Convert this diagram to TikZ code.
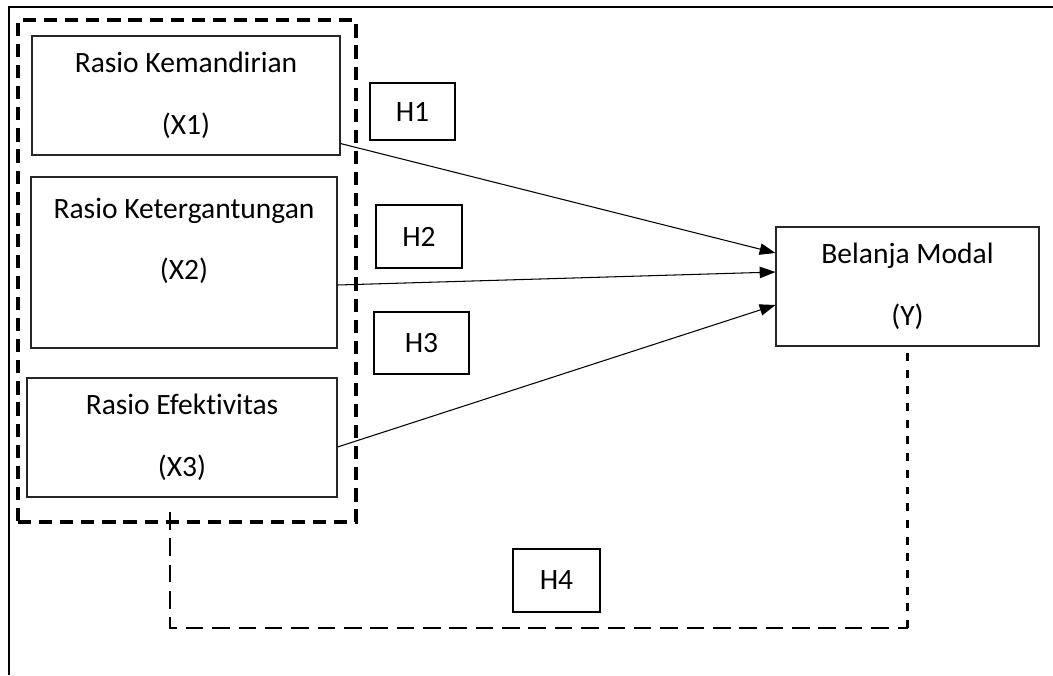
\documentclass[tikz,border=0pt]{standalone}
\usepackage{fontspec}
\setmainfont{Carlito}[Ligatures=NoCommon]
\usepackage{tikz}
\usetikzlibrary{arrows.meta}
\tikzset{
    var-box/.style = {draw=black!85, line width=0.6pt, rectangle, align=center, font=\fontsize{16.8}{20}\selectfont, inner sep=0pt},
    hyp-box/.style = {draw=black, line width=1.3pt, rectangle, font=\fontsize{16.8}{20}\selectfont, inner sep=0pt},
    group-box/.style = {draw=black, line width=1.8pt, dash pattern=on 7.5pt off 4.5pt},
    path-arrow/.style = {-{Triangle[length=9pt,width=6.5pt]}, line width=0.6pt},
    link-dashed/.style = {line width=1.2pt, dash pattern=on 10pt off 5pt},
}

\begin{document}
\begin{tikzpicture}
\useasboundingbox (0,0) rectangle (21.06,-13.5);
% outer frame
\draw[line width=1.4pt] (0.18,-13.5) -- (0.18,-0.14) -- (21.06,-0.14);
% variables
\node[group-box, minimum width=6.76cm, minimum height=10.04cm] (group) at (3.74,-5.42) {};
\node[var-box, minimum width=6.16cm, minimum height=2.38cm] (X1) at (3.72,-1.91) {Rasio Kemandirian\\[15pt](X1)};
\node[var-box, minimum width=6.12cm, minimum height=3.42cm, text depth=27pt] (X2) at (3.68,-5.25) {Rasio Ketergantungan\\[15pt](X2)};
\node[var-box, minimum width=6.2cm, minimum height=2.38cm] (X3) at (3.64,-8.75) {Rasio Efektivitas\\[15pt](X3)};
\node[var-box, minimum width=5.26cm, minimum height=2.38cm] (Y) at (18.15,-5.73) {Belanja Modal\\[15pt](Y)};
% hypotheses
\node[hyp-box, minimum width=1.7cm, minimum height=1.14cm] (H1) at (8.25,-2.23) {H1};
\node[hyp-box, minimum width=1.72cm, minimum height=1.26cm] (H2) at (8.38,-4.73) {H2};
\node[hyp-box, minimum width=1.9cm, minimum height=1.24cm] (H3) at (8.43,-6.86) {H3};
\node[hyp-box, minimum width=1.74cm, minimum height=1.26cm] (H4) at (11.13,-11.61) {H4};
% arrows
\draw[path-arrow] ([yshift=0.24cm]X1.south east) -- ([yshift=0.67cm]Y.west);
\draw[path-arrow] ([yshift=-0.45cm]X2.east) -- ([yshift=0.29cm]Y.west);
\draw[path-arrow] ([yshift=-0.19cm]X3.east) -- ([yshift=-0.37cm]Y.west);
% simultaneous link
\coordinate (h4start) at (3.4,-10.24);
\coordinate (h4row) at (0,-12.56);
\draw[link-dashed] (h4start) |- (Y.south |- h4row);
\draw[line width=1.2pt, dash pattern=on 4.5pt off 5pt] (Y.south |- h4row) -- (Y.south);
\end{tikzpicture}
\end{document}
